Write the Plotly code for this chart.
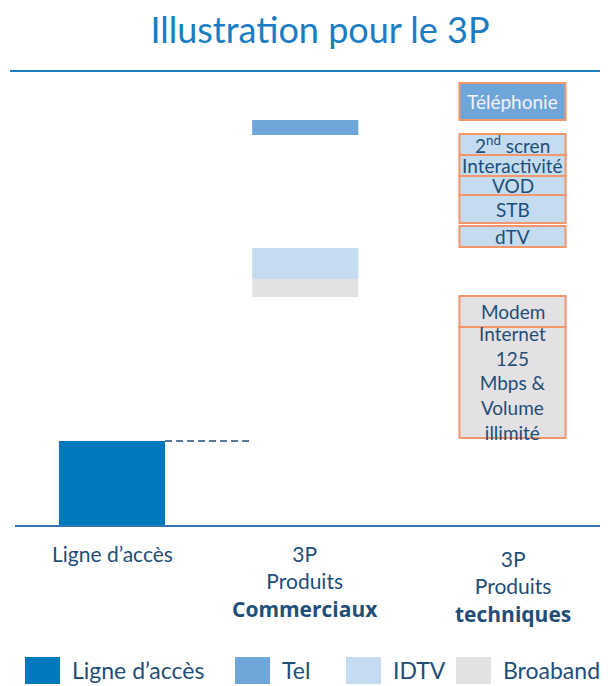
import plotly.graph_objects as go

# ---- data ----
BOLD = "<span style=\"font-family:'Open Sans';font-size:21px\"><b>{}</b></span>"
categories = ["Ligne d’accès", "3P<br>Produits<br>" + BOLD.format("Commerciaux"),
              "3P<br>Produits<br>" + BOLD.format("techniques")]
cat_pos = [0, 1, 2]

ligne_value = [84]

com_series = ["Broaband", "IDTV", "Tel"]
com_base = [228, 246, 390]
com_height = [18, 31, 15]

tech_labels = ["Internet<br>125<br>Mbps &<br>Volume<br>illimité", "Modem", "dTV", "STB", "VOD",
               "Interactivité", "2<sup>nd</sup> scren", "Téléphonie"]
tech_base = [87, 198, 278, 302, 330, 349, 370, 405]
tech_height = [111, 31, 21, 28, 19, 21, 21, 37]
tech_group = ["Broaband", "Broaband", "IDTV", "IDTV", "IDTV", "IDTV", "IDTV", "Tel"]

legend_names = ["Ligne d’accès", "Tel", "IDTV", "Broaband"]

colors = {"Ligne d’accès": "#0078BE", "Tel": "#6FA6DA", "IDTV": "#C4DBF0", "Broaband": "#E3E1E3"}
text_dark = "#1F4E79"
orange = "#F4956A"
FONT = "Lato"
BW = 0.53
SHIFT2 = -0.035   # small visual nudge of the middle column

# page offset (browser body margin)
OFF = 8
W, H = 608 - OFF, 686 - OFF
L, R, T, B = 15 - OFF, 8, 75 - OFF, 161
pw, ph = W - L - R, H - T - B


def px_x(p):
    return (p - OFF - L) / pw


def px_y(p):
    return (H - B - (p - OFF)) / ph


fig = go.Figure()

fig.add_trace(go.Bar(x=[cat_pos[0]], y=ligne_value, base=[0], width=BW,
                     marker=dict(color=colors["Ligne d’accès"], line=dict(width=0)),
                     showlegend=False, hoverinfo="skip"))

for name, b, h in zip(com_series, com_base, com_height):
    fig.add_trace(go.Bar(x=[cat_pos[1]], y=[h], base=[b], width=BW, offset=-BW / 2 + SHIFT2,
                         marker=dict(color=colors[name], line=dict(width=0)),
                         showlegend=False, name=name))

fig.add_trace(go.Bar(x=[cat_pos[2]] * len(tech_labels), y=tech_height, base=tech_base, width=BW,
                     marker=dict(color=[colors[g] for g in tech_group],
                                 line=dict(color=orange, width=2)),
                     showlegend=False, hoverinfo="skip"))

# dashed connector
fig.add_trace(go.Scatter(x=[cat_pos[0] + BW / 2, cat_pos[1] - BW / 2 + SHIFT2], y=[ligne_value[0]] * 2,
                         mode="lines", line=dict(color=text_dark, width=1.5, dash="7px,4px"),
                         showlegend=False, hoverinfo="skip"))

for lab, b, h, g in zip(tech_labels, tech_base, tech_height, tech_group):
    fig.add_annotation(x=cat_pos[2], y=b + h / 2, text=lab, showarrow=False,
                       font=dict(family=FONT, size=19,
                                 color="#F2F2F2" if g == "Tel" else text_dark))

# category labels
label_offsets = [-14, -14, -19]
label_xshift = [0, -7, 0]
for x, lab, off, xs in zip(cat_pos, categories, label_offsets, label_xshift):
    fig.add_annotation(x=x, y=0, yref="y", text=lab, showarrow=False, yanchor="top", yshift=off,
                       xshift=xs, font=dict(family=FONT, size=21, color=text_dark))

# custom legend (paper coords)
leg_sq_x = [25, 235, 346, 456]
for name, sx in zip(legend_names, leg_sq_x):
    fig.add_shape(type="rect", xref="paper", yref="paper",
                  x0=px_x(sx), x1=px_x(sx + 35), y0=px_y(684), y1=px_y(657),
                  fillcolor=colors[name], line=dict(width=0))
    fig.add_annotation(xref="paper", yref="paper", x=px_x(sx + 45), y=px_y(670), text=name,
                       showarrow=False, xanchor="left", yanchor="middle",
                       font=dict(family=FONT, size=23, color=text_dark))

# title underline
fig.add_shape(type="line", xref="paper", yref="paper", x0=px_x(10), x1=px_x(608),
              y0=px_y(71), y1=px_y(71), line=dict(color="#1A7DC4", width=2))

fig.update_layout(
    width=W, height=H,
    margin=dict(l=L, r=R, t=T, b=B),
    paper_bgcolor="white", plot_bgcolor="white",
    barmode="overlay",
    title=dict(text="Illustration pour le 3P", x=(320 - OFF) / W, xanchor="center",
               y=1 - (30 - OFF) / H, yanchor="middle",
               font=dict(family=FONT, size=36, color="#1A7DC4")),
    xaxis=dict(range=[(15 - 112) / 200.25, (600 - 112) / 200.25], showgrid=False, zeroline=False,
               showticklabels=False, showline=True, linecolor="#2E75B6", linewidth=1.5, fixedrange=True),
    yaxis=dict(range=[0, 450], showgrid=False, zeroline=False, showticklabels=False, visible=False),
    showlegend=False,
)

fig.write_html("out.html")
